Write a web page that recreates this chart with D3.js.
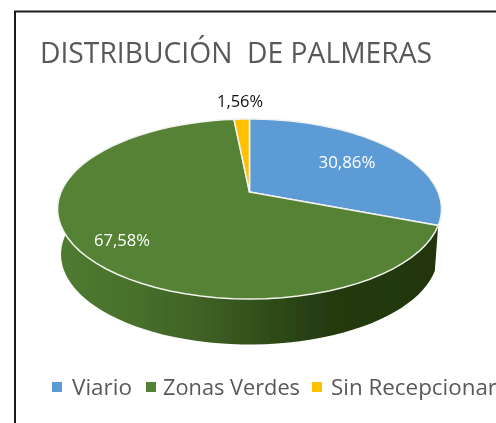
<!DOCTYPE html>
<html><head><meta charset="utf-8">
<script src="https://cdn.jsdelivr.net/npm/d3@7"></script>
<style>html,body{margin:0;padding:0;background:#fff}svg{display:block}text{font-family:"Open Sans",sans-serif}</style>
</head><body><div id="c"></div>
<script>
const categories=["Viario","Zonas Verdes","Sin Recepcionar"];
const values=[30.86,67.58,1.56];
const labels=["30,86%","67,58%","1,56%"];
const colors=["#5b9bd5","#548235","#ffc000"];
const titleText="DISTRIBUCIÓN\u00a0\u00a0DE PALMERAS";

const W=496,H=423;
const svg=d3.select("#c").append("svg").attr("width",W).attr("height",H);
const defs=svg.append("defs");
const g=defs.append("linearGradient").attr("id","wall").attr("gradientUnits","userSpaceOnUse").attr("x1",58).attr("x2",441).attr("y1",0).attr("y2",0);
[[0,"#507b31"],[.2,"#47702b"],[.37,"#3f6125"],[.52,"#32501b"],[.7,"#253a11"],[1,"#233510"]].forEach(([o,c])=>g.append("stop").attr("offset",o).attr("stop-color",c));
const blur=defs.append("filter").attr("id","soft");blur.append("feGaussianBlur").attr("stdDeviation",.45);
const blurT=defs.append("filter").attr("id","softT").attr("x","-5%").attr("y","-20%").attr("width","110%").attr("height","140%");blurT.append("feGaussianBlur").attr("stdDeviation",.3);

svg.append("path").attr("d",`M15,${H}V11.5H${W}`).attr("fill","none").attr("stroke","#1a1a1a").attr("stroke-width",2);

// perspective projection of the pie disc
const cx=249.5,cy=192,r=188.5,b=86.8,k=.189;
const proj=(a,sc=1,dy=0)=>{const u=Math.sin(a),v=Math.cos(a),d=1+k*v;return [cx+sc*r*u/d,cy-b*v/d+dy];};
const arcs=d3.pie().sort(null).value(d=>d)(values);
const line=d3.line();
const rim=(a0,a1,sc,dy)=>d3.range(0,61).map(i=>proj(a0+(a1-a0)*i/60,sc,dy));

const gr=svg.append("g").attr("filter","url(#soft)");
// side wall of the large slice
const a0=arcs[1].startAngle,a1=Math.PI*1.6;
gr.append("path").attr("d",line([...rim(a0,a1,1,0),...rim(a1,a0,.982,45.5)])+"Z").attr("fill","url(#wall)");
// top faces
gr.selectAll("path.s").data(arcs).join("path").attr("class","s")
 .attr("d",d=>line([[cx,cy],...rim(d.startAngle,d.endAngle,1,0)])+"Z")
 .attr("fill",(d,i)=>colors[i]).attr("stroke","#f2f2ee").attr("stroke-width",1.5).attr("stroke-linejoin","round");

const txt=svg.append("g").attr("filter","url(#softT)");
const lp=[[347,163],[122,241],[240,102]];
const lw=[57,56,46];
txt.selectAll("text.l").data(labels).join("text").attr("class","l")
 .attr("x",(d,i)=>lp[i][0]-lw[i]/2).attr("y",(d,i)=>lp[i][1]).attr("dy",".35em")
 .attr("font-size",15.5).attr("textLength",(d,i)=>lw[i]).attr("lengthAdjust","spacingAndGlyphs")
 .attr("fill",(d,i)=>i==2?"#111":"#fff").text(d=>d);

txt.append("text").attr("x",40).attr("y",63).attr("font-size",30).attr("fill","#595959").attr("textLength",392).attr("lengthAdjust","spacingAndGlyphs").text(titleText);

const lx=[52,146,312],tx=[72,163,331],tw=[60,137,166];
categories.forEach((c,i)=>{
 svg.append("rect").attr("x",lx[i]).attr("y",382).attr("width",10).attr("height",10).attr("fill",colors[i]);
 txt.append("text").attr("x",tx[i]).attr("y",395).attr("font-size",21.5).attr("fill","#595959").attr("textLength",tw[i]).attr("lengthAdjust","spacingAndGlyphs").text(c);
});
</script></body></html>
